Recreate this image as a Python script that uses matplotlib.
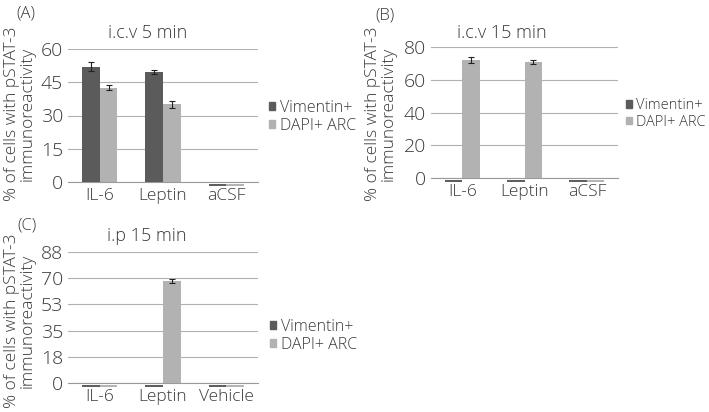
import matplotlib
matplotlib.use("Agg")
import matplotlib.pyplot as plt
from matplotlib.patches import Patch
import numpy as np

plt.rcParams['font.family'] = ['Open Sans', 'DejaVu Sans']
plt.rcParams['font.weight'] = 'light'

# data
series = ["Vimentin+", "DAPI+ ARC"]
cats_a = ["IL-6", "Leptin", "aCSF"]
vim_a = [52.0, 49.6, 0.0]
vim_a_err = [2.0, 1.0, 0.0]
dapi_a = [42.5, 35.0, 0.0]
dapi_a_err = [1.2, 1.5, 0.0]

cats_b = ["IL-6", "Leptin", "aCSF"]
vim_b = [0.0, 0.0, 0.0]
vim_b_err = [0.0, 0.0, 0.0]
dapi_b = [72.3, 71.0, 0.0]
dapi_b_err = [1.8, 1.2, 0.0]

cats_c = ["IL-6", "Leptin", "Vehicle"]
vim_c = [0.0, 0.0, 0.0]
vim_c_err = [0.0, 0.0, 0.0]
dapi_c = [0.0, 68.6, 0.0]
dapi_c_err = [0.0, 1.2, 0.0]

ticks_a = [0, 15, 30, 45, 60]
ticks_b = [0, 20, 40, 60, 80]
ticks_c = [0, 17.6, 35.2, 52.8, 70.4, 88]

DARK = "#5b5b5b"
LIGHT = "#b2b2b2"
TXT = "#3a3a3a"
GRID = "#b0b0b0"

W, H = 709, 412
fig = plt.figure(figsize=(W / 100, H / 100), dpi=100)


def fx(px):
    return px / W


def fy(py):
    return 1 - py / H


def panel(left, right, top, bottom, cats, vim, vim_err, dapi, dapi_err, ticks):
    ax = fig.add_axes([fx(left), fy(bottom), fx(right - left), (bottom - top) / H])
    x = np.arange(len(cats))
    w = 0.28
    ymax = ticks[-1]
    off = 0.022 * ymax  # zero bars sit a little under the axis
    for vals, errs, col, sh in [(vim, vim_err, DARK, -w / 2), (dapi, dapi_err, LIGHT, w / 2)]:
        for xi, v, e in zip(x, vals, errs):
            if v == 0:
                ax.plot([xi + sh - w / 2, xi + sh + w / 2], [-off, -off],
                        color=col, lw=1.4, solid_capstyle='butt', clip_on=False, zorder=3)
            else:
                ax.bar(xi + sh, v, w, color=col, zorder=3)
                ax.errorbar(xi + sh, v, yerr=e, fmt='none', ecolor="#222222",
                            elinewidth=0.8, capsize=2.2, capthick=0.8, zorder=4)
    ax.set_xlim(-0.5, len(cats) - 0.5)
    ax.set_ylim(0, ymax)
    ax.set_yticks(ticks)
    ax.set_yticklabels([f"{t:.0f}" for t in ticks])
    ax.set_xticks(x)
    ax.set_xticklabels(cats)
    ax.yaxis.grid(True, color=GRID, lw=0.8, zorder=0)
    ax.set_axisbelow(True)
    for s in ["top", "right", "left"]:
        ax.spines[s].set_visible(False)
    ax.spines["bottom"].set_color("#9a9a9a")
    ax.spines["bottom"].set_linewidth(0.8)
    ax.tick_params(axis='both', length=0, colors=TXT)
    ax.tick_params(axis='y', labelsize=14, pad=3.5)
    ax.tick_params(axis='x', labelsize=12.5, pad=4)
    return ax


def legend(ax, px, py, size):
    handles = [Patch(color=DARK), Patch(color=LIGHT)]
    ax.legend(handles, series, loc='center left', bbox_to_anchor=(fx(px), fy(py)),
              bbox_transform=fig.transFigure, frameon=False, fontsize=size,
              handlelength=0.4, handleheight=0.4, handletextpad=0.3,
              labelspacing=0.12, borderpad=0, borderaxespad=0, labelcolor=TXT)


ylab = "% of cells with pSTAT-3\nimmunoreactivity"

ax_a = panel(68, 258, 49, 182, cats_a, vim_a, vim_a_err, dapi_a, dapi_a_err, ticks_a)
legend(ax_a, 269, 117, 11.5)
fig.text(fx(148), fy(33), "i.c.v 5 min", ha='center', va='center', fontsize=13, color=TXT)
fig.text(fx(16), fy(14), "(A)", ha='left', va='center', fontsize=12, color=TXT)
fig.text(fx(20), fy(114), ylab, rotation=90, ha='center', va='center',
         fontsize=12.5, color=TXT, linespacing=0.95)

ax_b = panel(431, 618, 47, 178, cats_b, vim_b, vim_b_err, dapi_b, dapi_b_err, ticks_b)
legend(ax_b, 626, 114, 10.5)
fig.text(fx(502), fy(33), "i.c.v 15 min", ha='center', va='center', fontsize=13, color=TXT)
fig.text(fx(375), fy(16), "(B)", ha='left', va='center', fontsize=12, color=TXT)
fig.text(fx(381), fy(114), ylab, rotation=90, ha='center', va='center',
         fontsize=12.5, color=TXT, linespacing=0.95)

ax_c = panel(68, 258, 252, 383, cats_c, vim_c, vim_c_err, dapi_c, dapi_c_err, ticks_c)
legend(ax_c, 270, 336, 11.5)
fig.text(fx(147), fy(236), "i.p 15 min", ha='center', va='center', fontsize=13, color=TXT)
fig.text(fx(17), fy(226), "(C)", ha='left', va='center', fontsize=12, color=TXT)
fig.text(fx(20), fy(321), ylab, rotation=90, ha='center', va='center',
         fontsize=12.5, color=TXT, linespacing=0.95)

fig.savefig("out.png", dpi=100)
